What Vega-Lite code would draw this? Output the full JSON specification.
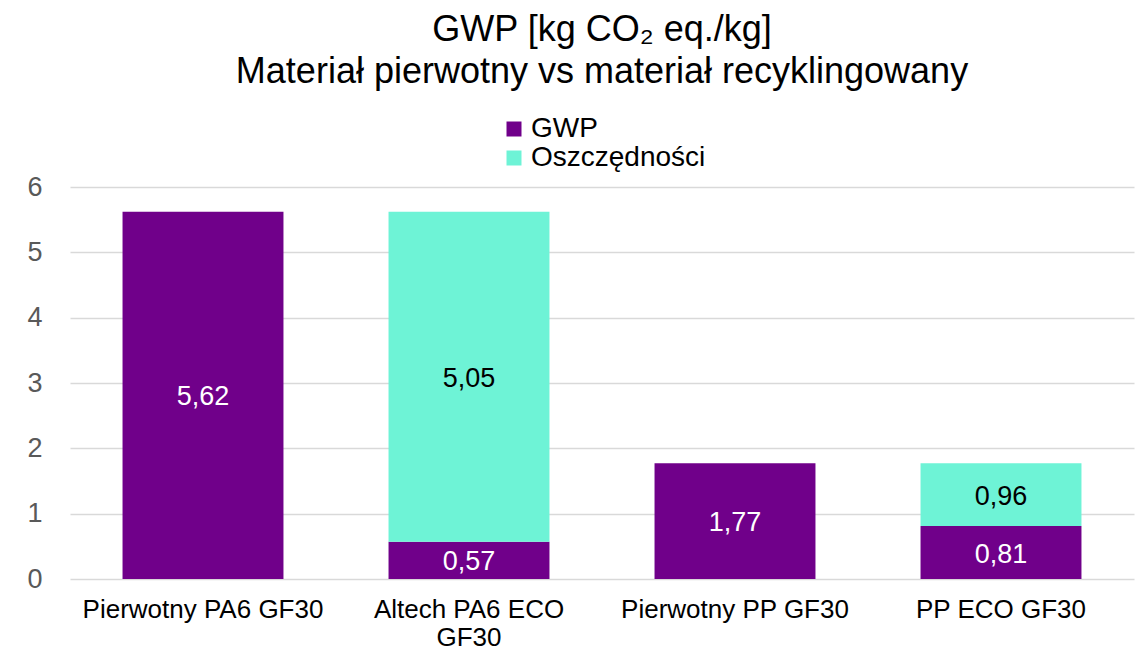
{
  "$schema": "https://vega.github.io/schema/vega-lite/v6.json",
  "width": 1064,
  "height": 392,
  "autosize": "none",
  "padding": {"left": 70, "top": 187, "right": 9, "bottom": 74},
  "background": "white",
  "title": {
    "text": ["GWP [kg CO₂ eq./kg]", "Materiał pierwotny vs materiał recyklingowany"],
    "fontSize": 36,
    "font": "Liberation Sans",
    "fontWeight": "normal",
    "color": "black",
    "anchor": "middle",
    "lineHeight": 42,
    "offset": 24
  },
  "data": {
    "values": [
      {"material": "Pierwotny PA6 GF30", "series": "GWP", "value": 5.62},
      {"material": "Altech PA6 ECO GF30", "series": "GWP", "value": 0.57},
      {"material": "Altech PA6 ECO GF30", "series": "Oszczędności", "value": 5.05},
      {"material": "Pierwotny PP GF30", "series": "GWP", "value": 1.77},
      {"material": "PP ECO GF30", "series": "GWP", "value": 0.81},
      {"material": "PP ECO GF30", "series": "Oszczędności", "value": 0.96}
    ]
  },
  "layer": [
    {
      "mark": {"type": "bar"},
      "encoding": {
        "x": {
          "field": "material", "type": "nominal", "sort": null,
          "scale": {"paddingInner": 0.395, "paddingOuter": 0.1975},
          "axis": {
            "title": null, "labelAngle": 0, "domain": false, "ticks": false,
            "labelFont": "Liberation Sans", "labelFontSize": 26, "labelColor": "black",
            "labelPadding": 17, "labelLineHeight": 28, "labelLimit": 0,
            "labelExpr": "datum.value == 'Altech PA6 ECO GF30' ? ['Altech PA6 ECO', 'GF30'] : datum.value"
          }
        },
        "y": {
          "field": "value", "type": "quantitative",
          "scale": {"domain": [0, 6], "nice": false},
          "axis": {
            "title": null, "values": [0, 1, 2, 3, 4, 5, 6], "domain": false, "ticks": false,
            "labelFont": "Liberation Sans", "labelFontSize": 27, "labelColor": "#595959",
            "labelPadding": 28, "grid": true, "gridColor": "#d9d9d9", "gridWidth": 1.5,
            "format": "d"
          }
        },
        "color": {
          "field": "series", "type": "nominal",
          "scale": {"domain": ["GWP", "Oszczędności"], "range": ["#70008a", "#6ef3d6"]},
          "legend": {
            "title": null, "orient": "none", "legendX": 430, "legendY": -72,
            "symbolType": "square", "symbolSize": 225, "symbolStrokeWidth": 0,
            "labelFont": "Liberation Sans", "labelFontSize": 28, "labelColor": "black",
            "labelOffset": 3, "rowPadding": 1, "labelLimit": 0
          }
        },
        "order": {"field": "series", "sort": "ascending"}
      }
    },
    {
      "transform": [
        {"stack": "value", "groupby": ["material"], "sort": [{"field": "series", "order": "ascending"}], "as": ["v0", "v1"]},
        {"fold": ["v0", "v1"], "as": ["k", "val"]}
      ],
      "mark": {"type": "text", "font": "Liberation Sans", "fontSize": 27, "baseline": "middle", "align": "center", "dy": 2},
      "encoding": {
        "x": {"field": "material", "type": "nominal", "sort": null},
        "y": {"aggregate": "mean", "field": "val", "type": "quantitative"},
        "detail": {"field": "series"},
        "text": {"field": "value", "type": "quantitative", "format": ".2f"},
        "color": {"condition": {"test": "datum.series == 'GWP'", "value": "white"}, "value": "black"}
      }
    }
  ],
  "config": {
    "view": {"stroke": null},
    "locale": {"number": {"decimal": ",", "thousands": " ", "grouping": [3], "currency": ["", " zł"]}}
  }
}
